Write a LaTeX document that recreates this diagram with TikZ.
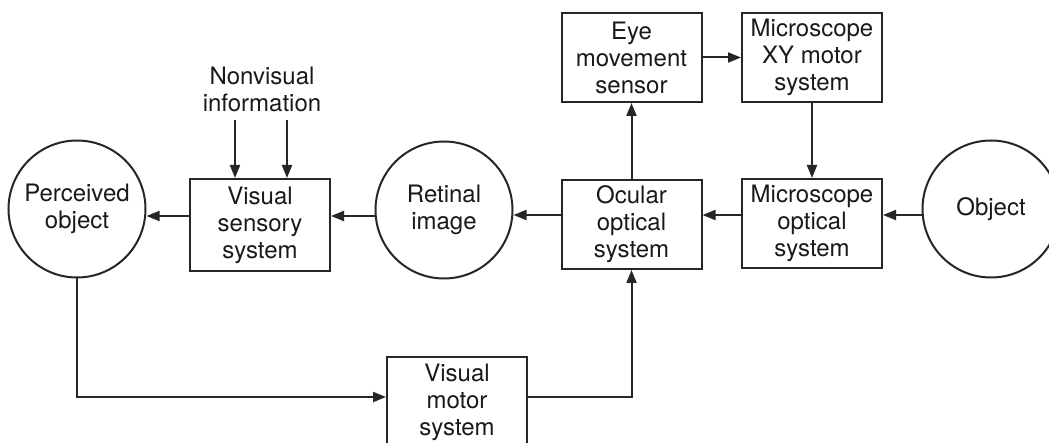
\documentclass[tikz,border=0pt]{standalone}
\usepackage{fontspec}
\setmainfont{TeX Gyre Heros}
\usetikzlibrary{arrows.meta}
\begin{document}
\begin{tikzpicture}[x=1pt,y=-1pt,
  every node/.style={font=\fontsize{24}{27}\selectfont, text=black!90, align=center},
  blk/.style={draw=black!85, line width=2pt, minimum width=140pt, minimum height=89pt, inner sep=0pt},
  circ/.style={draw=black!85, line width=2pt, circle, minimum size=137pt, inner sep=0pt},
  arr/.style={draw=black!85, line width=2pt, -{Triangle[length=13pt,width=10pt]}},
  ln/.style={draw=black!85, line width=2pt}]
\useasboundingbox (0,0) rectangle (1049,443);
\clip (0,0) rectangle (1049,443);
% nodes
\node[circ] (perc) at (77,209) {Perceived\\object};
\node[blk, minimum height=92pt] (vss) at (260,225) {Visual\\sensory\\system};
\node (nonvis) at (262,89) {Nonvisual\\information};
\node[circ] (ret) at (444,210) {Retinal\\image};
\node[blk] (ocu) at (631.5,224.5) {Ocular\\optical\\system};
\node[blk] (eye) at (631.5,57.5) {Eye\\movement\\sensor};
\node[blk] (mxy) at (812,57.5) {Microscope\\XY motor\\system};
\node[blk] (mopt) at (812,223.5) {Microscope\\optical\\system};
\node[circ] (obj) at (991,209) {Object};
\node[blk, minimum height=90pt] (vms) at (457,402) {Visual\\motor\\system};
% coordinates
\coordinate (n1) at (235,120);
\coordinate (n2) at (287,120);
% connectors
\draw[arr] (eye.east) -- (mxy.west);
\draw[arr] (mxy.south) -- (mopt.north);
\draw[arr] (obj.west |- 0,215) -- (mopt.east |- 0,215);
\draw[arr] (mopt.west |- 0,215) -- (ocu.east |- 0,215);
\draw[arr] (ocu.west |- 0,215) -- (ret.east |- 0,215);
\draw[arr] (ocu.north) -- (eye.south);
\draw[arr] (ret.west |- 0,216) -- (vss.east |- 0,216);
\draw[arr] (vss.west |- 0,216) -- (perc.east |- 0,216);
\draw[arr] (n1) -- (n1 |- vss.north);
\draw[arr] (n2) -- (n2 |- vss.north);
\draw[arr] (perc.south) |- (vms.west |- 0,397);
\draw[arr] (vms.east |- 0,397) -| (ocu.south);
\end{tikzpicture}
\end{document}
